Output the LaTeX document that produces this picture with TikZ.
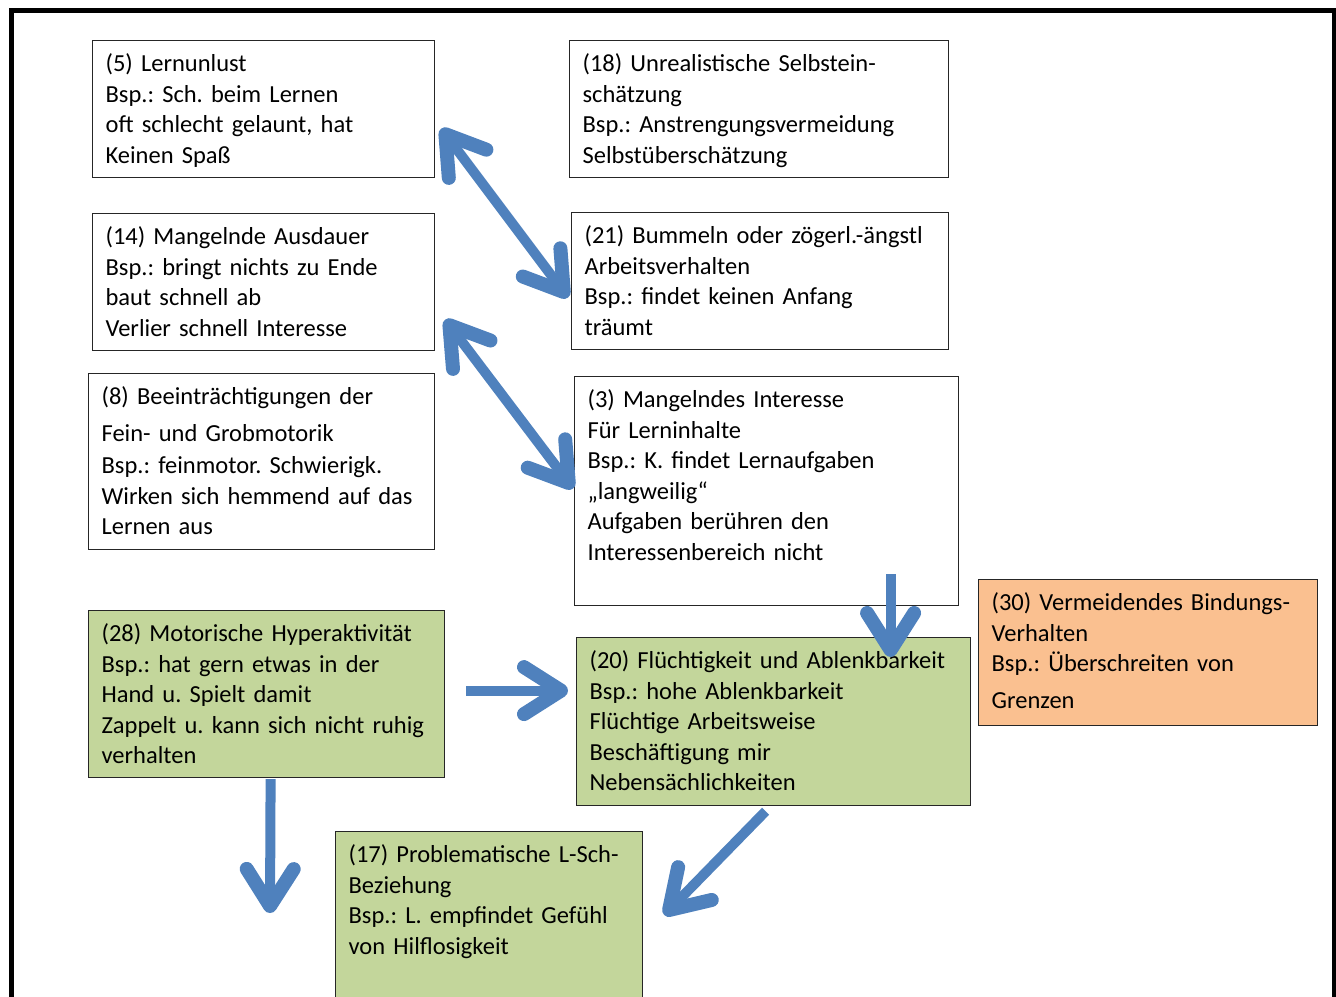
\documentclass[tikz,border=0pt]{standalone}
\usepackage{fontspec}
\setmainfont{Carlito}
\usepackage{xcolor}
\usetikzlibrary{arrows.meta}
\frenchspacing
\definecolor{boxgreen}{HTML}{C3D69B}
\definecolor{boxorange}{HTML}{FAC090}
\definecolor{arrowblue}{HTML}{4F81BD}
\tikzset{
    box/.style={draw=black!85, line width=1.2pt, anchor=north west, align=left,
        inner xsep=13pt, inner ysep=0pt, text height=31pt,
        font=\fontsize{24.5pt}{30.5pt}\selectfont},
    blarrow/.style={draw=arrowblue, line width=10pt,
        -{Straight Barb[round, length=37pt, width=47pt, line width=0pt 1.4]}},
    dblarrow/.style={blarrow, {Straight Barb[round, length=37pt, width=47pt, line width=0pt 1.4]}-{Straight Barb[round, length=37pt, width=47pt, line width=0pt 1.4]}}
}
\begin{document}
\begin{tikzpicture}[x=1pt, y=-1pt]
            \useasboundingbox (0,0) rectangle (1336,996);
            \draw[line width=5pt] (11.5,1010) -- (11.5,10.5) -- (1334,10.5) -- (1334,1010);
            \node[box, text width=316pt, text depth=106pt] (b5) at (92,40)
                {(5) Lernunlust\\Bsp.: Sch. beim Lernen\\oft schlecht gelaunt, hat\\Keinen Spaß};
            \node[box, text width=353pt, text depth=106pt] (b18) at (569,40)
                {(18) Unrealistische Selbstein-\\schätzung\\Bsp.: Anstrengungsvermeidung\\Selbstüberschätzung};
            \node[box, text width=351pt, text depth=106pt] (b21) at (571,212)
                {(21) Bummeln oder zögerl.-ängstl\\Arbeitsverhalten\\Bsp.: findet keinen Anfang\\träumt};
            \node[box, text width=316pt, text depth=106pt] (b14) at (92,213)
                {(14) Mangelnde Ausdauer\\Bsp.: bringt nichts zu Ende\\baut schnell ab\\Verlier schnell Interesse};
            \node[box, text width=320pt, text depth=145pt] (b8) at (88,373)
                {(8) Beeinträchtigungen der\\[6pt]Fein- und Grobmotorik\\[2pt]Bsp.: feinmotor. Schwierigk.\\Wirken sich hemmend auf das\\Lernen aus};
            \node[box, text width=358pt, text depth=198pt] (b3) at (574,376)
                {(3) Mangelndes Interesse\\Für Lerninhalte\\Bsp.: K. findet Lernaufgaben\\„langweilig“\\Aufgaben berühren den\\Interessenbereich nicht};
            \node[box, fill=boxgreen, text width=330pt, text depth=136pt] (b28) at (88,610)
                {(28) Motorische Hyperaktivität\\Bsp.: hat gern etwas in der\\Hand u. Spielt damit\\Zappelt u. kann sich nicht ruhig\\verhalten};
            \node[box, fill=boxgreen, text width=368pt, text depth=137pt] (b20) at (576,637)
                {(20) Flüchtigkeit und Ablenkbarkeit\\Bsp.: hohe Ablenkbarkeit\\Flüchtige Arbeitsweise\\Beschäftigung mir\\Nebensächlichkeiten};
            \node[box, fill=boxorange, text width=313pt, text depth=115pt] (b30) at (978,579)
                {(30) Vermeidendes Bindungs-\\Verhalten\\Bsp.: Überschreiten von\\[6pt]Grenzen};
            \node[box, fill=boxgreen, text width=281pt, text depth=169pt] (b17) at (335,831)
                {(17) Problematische L-Sch-\\Beziehung\\Bsp.: L. empfindet Gefühl\\von Hilflosigkeit};
            \coordinate (e1) at (270,913);
            \draw[dblarrow] ([shift={(6,19.5)}]b5.east) -- ([shift={(-3,16.5)}]b21.west);
            \draw[dblarrow] ([shift={(10,37.5)}]b14.east) -- ([shift={(-1,-2.5)}]b3.west);
            \draw[blarrow] ([shift={(124,-32)}]b3.south) -- ([shift={(117,20)}]b20.north);
            \draw[blarrow] ([shift={(21,-3.5)}]b28.east) -- ([shift={(-8,-31)}]b20.west);
            \draw[blarrow] ([shift={(4,1)}]b28.south) -- (e1);
            \draw[blarrow] ([shift={(-8,5)}]b20.south) -- ([shift={(21,84)}]b17.north east);
\end{tikzpicture}
\end{document}
